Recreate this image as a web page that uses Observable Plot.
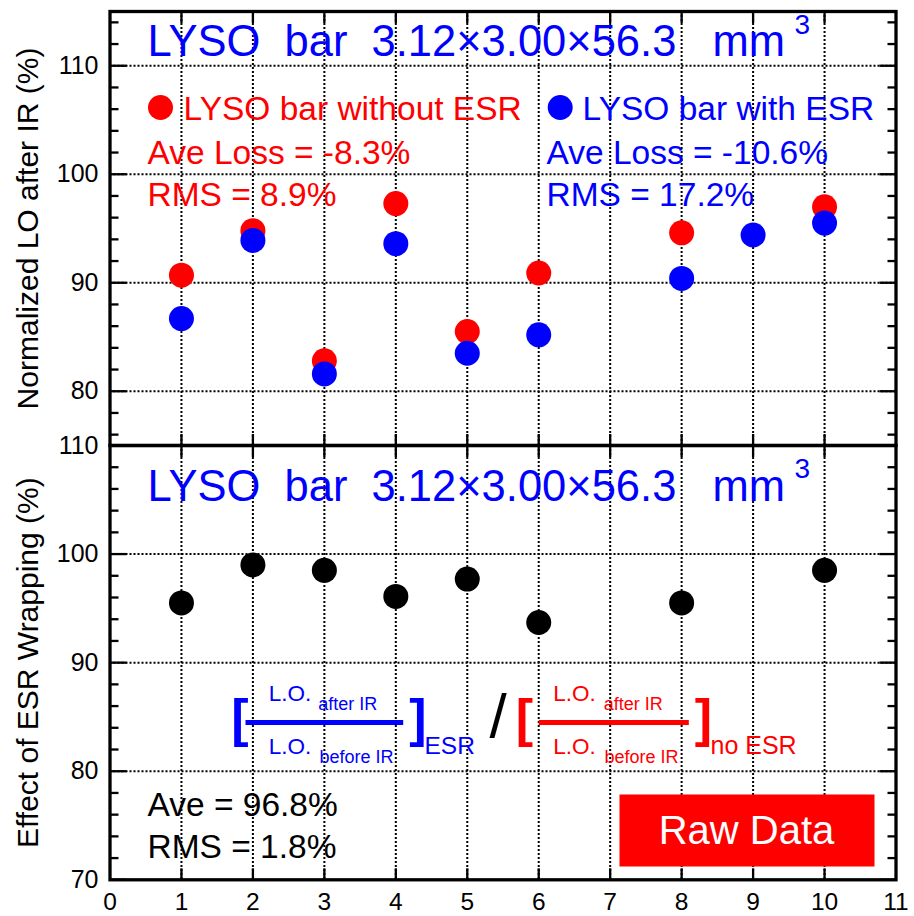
<!DOCTYPE html>
<html>
<head>
<meta charset="utf-8">
<script src="https://cdn.jsdelivr.net/npm/d3@7"></script>
<script src="https://cdn.jsdelivr.net/npm/@observablehq/plot@0.6"></script>
<style>
  body { margin: 0; background: #fff; }
  #wrap { position: relative; width: 914px; height: 916px; overflow: hidden; background: #fff; }
  #wrap svg { position: absolute; left: 0; }
</style>
</head>
<body>
<div id="wrap"></div>
<script>
// ---------- data ----------
const barsWithoutESR = [1, 2, 3, 4, 5, 6, 8, 10];
const loWithoutESR   = [90.7, 94.8, 82.8, 97.3, 85.5, 90.9, 94.6, 97.0];
const barsWithESR    = [1, 2, 3, 4, 5, 6, 8, 9, 10];
const loWithESR      = [86.7, 93.9, 81.6, 93.6, 83.5, 85.2, 90.4, 94.4, 95.5];
const barsEffect     = [1, 2, 3, 4, 5, 6, 8, 10];
const effectESR      = [95.5, 99.0, 98.5, 96.1, 97.7, 93.7, 95.5, 98.5];

const xTickLabels    = [0, 1, 2, 3, 4, 5, 6, 7, 8, 9, 10, 11];
const xMajorTicks    = [1, 2, 3, 4, 5, 6, 7, 8, 9, 10];
const topYLabels     = [80, 90, 100, 110];
const topYMinor      = [76, 78, 82, 84, 86, 88, 92, 94, 96, 98, 102, 104, 106, 108, 112, 114];
const botYLabels     = [70, 80, 90, 100, 110];
const botYGrid       = [80, 90, 100];
const botYMinor      = [72, 74, 76, 78, 82, 84, 86, 88, 92, 94, 96, 98, 102, 104, 106, 108];

const titleText      = "LYSO  bar  3.12×3.00×56.3   mm";

const redTable  = barsWithoutESR.map((b, i) => ({bar: b, v: loWithoutESR[i]}));
const blueTable = barsWithESR.map((b, i) => ({bar: b, v: loWithESR[i]}));
const effTable  = barsEffect.map((b, i) => ({bar: b, v: effectESR[i]}));

// ---------- style ----------
const FONT = "'Liberation Sans', Arial, Helvetica, sans-serif";
const RED = "#ff0000", BLUE = "#0000ff";
const gridStyle = {stroke: "black", strokeOpacity: 1, strokeWidth: 2, strokeDasharray: "2,2"};
const noText = () => "";

function frameDecor(yGridTicks) {
  return [
    Plot.gridY({ticks: yGridTicks, ...gridStyle}),
    Plot.gridX({ticks: xMajorTicks, ...gridStyle}),
  ];
}
function frameTicks(yMajorTicks, yMinorTicks) {
  const tk = {label: null, tickFormat: noText, strokeWidth: 2.3};
  return [
    Plot.axisY({ticks: yMajorTicks, anchor: "left", tickSize: -17, ...tk}),
    Plot.axisY({ticks: yMinorTicks, anchor: "left", tickSize: -9, ...tk}),
    Plot.axisY({ticks: yMajorTicks, anchor: "right", tickSize: -17, ...tk}),
    Plot.axisY({ticks: yMinorTicks, anchor: "right", tickSize: -9, ...tk}),
    Plot.axisX({ticks: xMajorTicks, anchor: "top", tickSize: -11, ...tk}),
    Plot.axisX({ticks: xMajorTicks, anchor: "bottom", tickSize: -11, ...tk}),
    Plot.frame({stroke: "black", strokeWidth: 3.3})
  ];
}
const txt = (s, o) => Plot.text([s], {text: d => d, frameAnchor: "top-left", textAnchor: "start", lineAnchor: "bottom", ...o});

const common = {
  width: 914,
  marginLeft: 109.5,
  marginRight: 18.5,
  x: {domain: [0, 11]},
  style: {fontFamily: FONT, background: "none", overflow: "visible", color: "black"}
};

// ---------- top panel ----------
const topPanel = Plot.plot({
  ...common,
  height: 460,
  marginTop: 11,
  marginBottom: 15,
  y: {domain: [75, 115]},
  marks: [
    ...frameDecor(topYLabels),
    Plot.axisY({ticks: topYLabels, anchor: "left", tickSize: 0, tickPadding: 11.5, fontSize: 25, label: null}),
    Plot.text(["Normalized LO after IR (%)"], {text: d => d, frameAnchor: "left", rotate: -90, dx: -72.5, textAnchor: "middle", lineAnchor: "bottom", fontSize: 30, fill: "black"}),
    txt(titleText, {dx: 37.5, dy: 44, fontSize: 43.5, fill: BLUE}),
    txt("3", {dx: 684.5, dy: 22, fontSize: 28, fill: BLUE}),
    Plot.dot([0], {frameAnchor: "top-left", dx: 50.5, dy: 96, r: 12.5, fill: RED}),
    txt("LYSO bar without ESR", {dx: 73.5, dy: 108, fontSize: 33.5, fill: RED}),
    Plot.dot([0], {frameAnchor: "top-left", dx: 450.2, dy: 96, r: 12.5, fill: BLUE}),
    txt("LYSO bar with ESR", {dx: 472.5, dy: 108, fontSize: 33.5, fill: BLUE}),
    txt("Ave Loss = -8.3%", {dx: 37.5, dy: 152, fontSize: 33.5, fill: RED}),
    txt("RMS = 8.9%", {dx: 37.5, dy: 194, fontSize: 33.5, fill: RED}),
    txt("Ave Loss = -10.6%", {dx: 436.5, dy: 152, fontSize: 33.5, fill: BLUE}),
    txt("RMS = 17.2%", {dx: 436.5, dy: 194, fontSize: 33.5, fill: BLUE}),
    Plot.dot(redTable, {x: "bar", y: "v", r: 12.5, fill: RED}),
    Plot.dot(blueTable, {x: "bar", y: "v", r: 12.5, fill: BLUE}),
    ...frameTicks(topYLabels, topYMinor)
  ]
});

// ---------- bottom panel ----------
const bottomPanel = Plot.plot({
  ...common,
  height: 486,
  marginTop: 15,
  marginBottom: 36.7,
  y: {domain: [70, 110]},
  marks: [
    ...frameDecor(botYGrid),
    Plot.axisY({ticks: botYLabels, anchor: "left", tickSize: 0, tickPadding: 11.5, fontSize: 25, label: null}),
    Plot.axisX({ticks: xTickLabels, anchor: "bottom", tickSize: 0, tickPadding: 13, fontSize: 24.5, label: null}),
    Plot.text(["Effect of ESR Wrapping (%)"], {text: d => d, frameAnchor: "left", rotate: -90, dx: -72.5, textAnchor: "middle", lineAnchor: "bottom", fontSize: 30, fill: "black"}),
    txt(titleText, {dx: 37.5, dy: 55, fontSize: 43.5, fill: BLUE}),
    txt("3", {dx: 684.5, dy: 32, fontSize: 28, fill: BLUE}),
    // formula
    txt("[", {dx: 130, dy: 290, fontSize: 52, fontWeight: "bold", fill: BLUE, textAnchor: "middle"}),
    Plot.frame({fill: BLUE, stroke: null, insetLeft: 135.5, insetRight: 492.8, insetTop: 274.5, insetBottom: 154.8}),
    txt("L.O.", {dx: 158.8, dy: 255.7, fontSize: 22.5, fill: BLUE}),
    txt("after IR", {dx: 208.2, dy: 264, fontSize: 18, fill: BLUE}),
    txt("L.O.", {dx: 158.8, dy: 308, fontSize: 22.5, fill: BLUE}),
    txt("before IR", {dx: 209.5, dy: 317.7, fontSize: 18, fill: BLUE}),
    txt("]", {dx: 308, dy: 290, fontSize: 52, fontWeight: "bold", fill: BLUE, textAnchor: "middle"}),
    txt("ESR", {dx: 314.5, dy: 308.3, fontSize: 24.5, fill: BLUE}),
    txt("/", {dx: 388, dy: 291, fontSize: 62, fill: "black", textAnchor: "middle"}),
    txt("[", {dx: 414.5, dy: 290, fontSize: 52, fontWeight: "bold", fill: RED, textAnchor: "middle"}),
    Plot.frame({fill: RED, stroke: null, insetLeft: 428.8, insetRight: 207.2, insetTop: 274.5, insetBottom: 154.8}),
    txt("L.O.", {dx: 443.2, dy: 255.7, fontSize: 22.5, fill: RED}),
    txt("after IR", {dx: 493.8, dy: 264, fontSize: 18, fill: RED}),
    txt("L.O.", {dx: 443.2, dy: 308, fontSize: 22.5, fill: RED}),
    txt("before IR", {dx: 494.5, dy: 317.7, fontSize: 18, fill: RED}),
    txt("]", {dx: 593.5, dy: 290, fontSize: 52, fontWeight: "bold", fill: RED, textAnchor: "middle"}),
    txt("no ESR", {dx: 600.5, dy: 308.3, fontSize: 25, fill: RED}),
    // stats
    txt("Ave = 96.8%", {dx: 37.5, dy: 370, fontSize: 33.5, fill: "black"}),
    txt("RMS = 1.8%", {dx: 37.5, dy: 412, fontSize: 33.5, fill: "black"}),
    // raw data box
    Plot.frame({fill: RED, stroke: null, insetLeft: 509.5, insetRight: 21.5, insetTop: 349, insetBottom: 13.3}),
    txt("Raw Data", {dx: 636.5, dy: 398, fontSize: 40, fill: "white", textAnchor: "middle"}),
    Plot.dot(effTable, {x: "bar", y: "v", r: 12.5, fill: "black"}),
    ...frameTicks(botYLabels, botYMinor)
  ]
});

const wrap = document.getElementById("wrap");
topPanel.style.top = "0px";
bottomPanel.style.top = "430px";
wrap.appendChild(topPanel);
wrap.appendChild(bottomPanel);
</script>
</body>
</html>
